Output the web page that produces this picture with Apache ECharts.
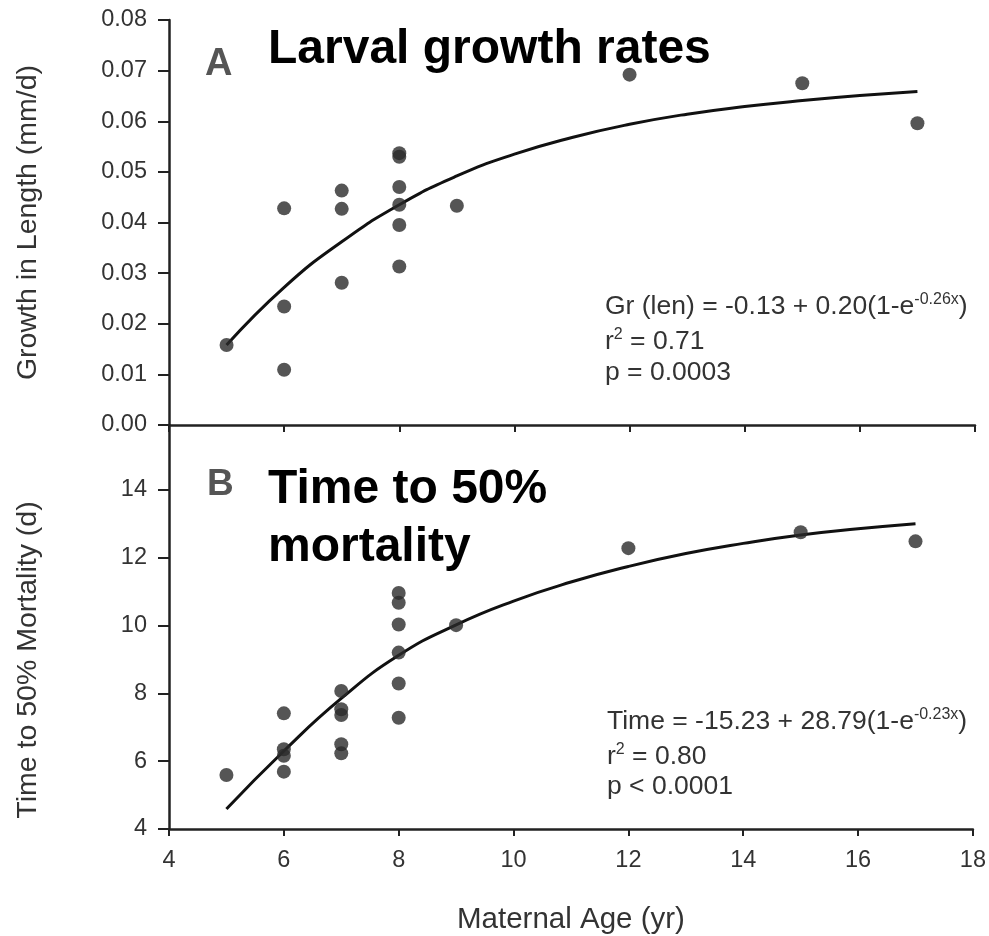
<!DOCTYPE html>
<html><head><meta charset="utf-8">
<script src="https://cdn.jsdelivr.net/npm/echarts@6/dist/echarts.min.js"></script>
<style>html,body{margin:0;padding:0;background:#fff}#c{width:989px;height:936px}</style>
</head><body><div id="c"></div>
<script>
// Panel A: larval growth rate vs maternal age
const ageA = [5, 6, 6, 6, 7, 7, 7, 8, 8, 8, 8, 8, 8, 9, 12, 15, 17];
const growth = [0.0158, 0.0428, 0.0234, 0.0109, 0.0463, 0.0427, 0.0281, 0.0537, 0.0530, 0.0470, 0.0435, 0.0395, 0.0313, 0.0433, 0.0692, 0.0675, 0.0596];
// Panel B: time to 50% mortality vs maternal age
const ageB = [5, 6, 6, 6, 6, 7, 7, 7, 7, 7, 8, 8, 8, 8, 8, 8, 9, 12, 15, 17];
const mortality = [5.59, 7.41, 6.35, 6.16, 5.69, 8.07, 7.53, 7.36, 6.50, 6.23, 10.96, 10.67, 10.03, 9.20, 8.29, 7.28, 10.01, 12.28, 12.75, 12.48];
// Fitted curves
const fitAge = [5, 6, 7, 8, 9, 10, 11, 12, 13, 14, 15, 16, 17];
const fitGrowth = [0.0158, 0.0272, 0.0362, 0.0435, 0.0492, 0.0535, 0.0568, 0.0594, 0.0614, 0.0629, 0.0641, 0.0651, 0.0659];
const fitMortality = [4.59, 6.30, 7.85, 9.12, 10.02, 10.72, 11.28, 11.74, 12.12, 12.42, 12.67, 12.85, 13.00];
// Text
const titleA = 'Larval growth rates';
const titleB1 = 'Time to 50%';
const titleB2 = 'mortality';
const yNameA = 'Growth in Length (mm/d)';
const yNameB = 'Time to 50% Mortality (d)';
const xName = 'Maternal Age (yr)';

const FONT = 'Liberation Sans, Arial, Helvetica, sans-serif';
const AX = '#222';
const TXT = '#333';

function pairs(xs, ys) { return xs.map((x, i) => [x, ys[i]]); }

const chart = echarts.init(document.getElementById('c'), null, {renderer: 'canvas'});

const baseX = {
  type: 'value', min: 4, max: 18, interval: 2,
  axisLine: {show: true, onZero: false, lineStyle: {color: AX, width: 2.5}},
  axisTick: {show: true, inside: false, length: 7, lineStyle: {color: AX, width: 2}},
  splitLine: {show: false}
};
const baseY = {
  type: 'value',
  axisLine: {show: true, onZero: false, lineStyle: {color: AX, width: 2.5}},
  axisTick: {show: true, inside: false, length: 11, lineStyle: {color: AX, width: 2}},
  splitLine: {show: false},
  nameLocation: 'middle', nameGap: 126,
  nameTextStyle: {fontFamily: FONT, fontSize: 28.5, color: TXT}
};
const lbl = {color: TXT, fontFamily: FONT, fontSize: 23.5};

const rich = {
  a: {fontFamily: FONT, fontSize: 26.5, color: TXT, lineHeight: 30},
  s: {fontFamily: FONT, fontSize: 16, color: TXT, lineHeight: 10, verticalAlign: 'top'},
  s2: {fontFamily: FONT, fontSize: 16, color: TXT, lineHeight: 20, verticalAlign: 'top'}
};
function eq(x, y, text) {
  return {type: 'text', left: x, top: y, style: {text: text, rich: rich, fill: TXT}};
}

const option = {
  backgroundColor: '#fff',
  animation: false,
  grid: [
    {left: 169, right: 14, top: 20, height: 405},
    {left: 169, right: 14, top: 425, height: 405}
  ],
  xAxis: [
    Object.assign({}, baseX, {gridIndex: 0, axisLabel: {show: false}}),
    Object.assign({}, baseX, {gridIndex: 1, axisLabel: Object.assign({margin: 20}, lbl),
      name: xName, nameLocation: 'middle', nameGap: 76,
      nameTextStyle: {fontFamily: FONT, fontSize: 29.5, color: TXT}})
  ],
  yAxis: [
    Object.assign({}, baseY, {gridIndex: 0, min: 0, max: 0.08, interval: 0.01,
      axisLabel: Object.assign({margin: 22, formatter: v => v.toFixed(2)}, lbl),
      name: yNameA}),
    Object.assign({}, baseY, {gridIndex: 1, min: 4, max: 15.91, interval: 2,
      axisLabel: Object.assign({margin: 22, showMaxLabel: false}, lbl),
      name: yNameB,
      nameTextStyle: {fontFamily: FONT, fontSize: 28.5, color: TXT, padding: [0, 66, 0, 0]}})
  ],
  series: [
    {type: 'line', xAxisIndex: 0, yAxisIndex: 0, data: pairs(fitAge, fitGrowth), smooth: true,
      showSymbol: false, lineStyle: {color: '#111', width: 3}, z: 2},
    {type: 'scatter', xAxisIndex: 0, yAxisIndex: 0, data: pairs(ageA, growth), symbol: 'circle',
      symbolSize: 14, itemStyle: {color: '#2b2b2b'}, z: 3},
    {type: 'line', xAxisIndex: 1, yAxisIndex: 1, data: pairs(fitAge, fitMortality), smooth: true,
      showSymbol: false, lineStyle: {color: '#111', width: 3}, z: 2},
    {type: 'scatter', xAxisIndex: 1, yAxisIndex: 1, data: pairs(ageB, mortality), symbol: 'circle',
      symbolSize: 14, itemStyle: {color: '#2b2b2b'}, z: 3}
  ],
  graphic: [
    {type: 'text', left: 205, top: 46, style: {text: 'A', font: 'bold 38px ' + FONT, fill: '#555'}},
    {type: 'text', left: 268, top: 26, style: {text: titleA, font: 'bold 48px ' + FONT, fill: '#000'}},
    {type: 'text', left: 207, top: 466, style: {text: 'B', font: 'bold 37px ' + FONT, fill: '#555'}},
    {type: 'text', left: 268, top: 466, style: {text: titleB1, font: 'bold 48px ' + FONT, fill: '#000'}},
    {type: 'text', left: 268, top: 524, style: {text: titleB2, font: 'bold 48px ' + FONT, fill: '#000'}},
    eq(605, 292, '{a|Gr (len) = -0.13 + 0.20(1-e}{s|-0.26x}{a|)}'),
    eq(605, 327, '{a|r}{s2|2}{a| = 0.71}'),
    eq(605, 359, '{a|p = 0.0003}'),
    eq(607, 707, '{a|Time = -15.23 + 28.79(1-e}{s|-0.23x}{a|)}'),
    eq(607, 742, '{a|r}{s2|2}{a| = 0.80}'),
    eq(607, 773, '{a|p < 0.0001}')
  ]
};
chart.setOption(option);
</script>
</body></html>
